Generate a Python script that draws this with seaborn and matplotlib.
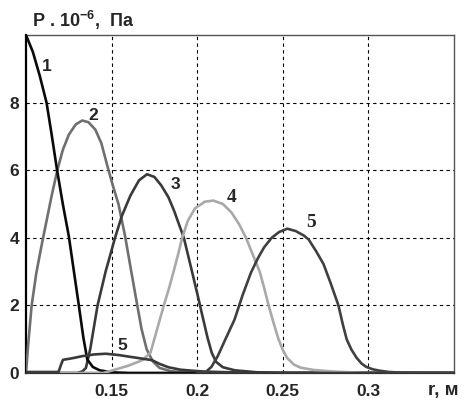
import matplotlib
matplotlib.use("Agg")
import matplotlib.pyplot as plt
import seaborn as sns

sns.set_style("white")
plt.rcParams['font.family'] = ['Liberation Sans', 'DejaVu Sans']
plt.rcParams['mathtext.fontset'] = 'custom'
plt.rcParams['mathtext.rm'] = 'Liberation Sans'
plt.rcParams['mathtext.bf'] = 'Liberation Sans:bold'

# ---- data (r in m, P*1e-6 in Pa) ----
x1 = [0.100, 0.104, 0.108, 0.112, 0.115, 0.118, 0.1215, 0.125, 0.128, 0.131,
      0.1335, 0.1358, 0.139, 0.143, 0.150, 0.160, 0.350]
y1 = [10.0, 9.5, 8.8, 8.0, 7.05, 6.05, 5.0, 4.05, 3.0, 1.95,
      1.05, 0.4, 0.18, 0.08, 0.02, 0.0, 0.0]

x2 = [0.100, 0.1012, 0.1033, 0.106, 0.109, 0.112, 0.115, 0.1183, 0.1215, 0.125,
      0.129, 0.1328, 0.1365, 0.1405, 0.144, 0.1482, 0.151, 0.154, 0.1578, 0.1615,
      0.165, 0.1675, 0.1705, 0.174, 0.178, 0.185, 0.200, 0.350]
y2 = [0.0, 0.8, 2.0, 2.95, 3.75, 4.5, 5.25, 6.0, 6.6, 7.05,
      7.35, 7.47, 7.42, 7.2, 6.8, 6.0, 5.5, 5.0, 4.07, 3.0,
      2.0, 1.3, 0.7, 0.35, 0.15, 0.05, 0.0, 0.0]

x3 = [0.100, 0.130, 0.133, 0.135, 0.1375, 0.1418, 0.1465, 0.152, 0.156, 0.161,
      0.166, 0.1707, 0.175, 0.179, 0.1832, 0.1865, 0.1922, 0.1965, 0.2005, 0.203,
      0.206, 0.2085, 0.211, 0.215, 0.222, 0.235, 0.250, 0.350]
y3 = [0.0, 0.0, 0.05, 0.15, 0.7, 2.0, 3.0, 4.0, 4.65, 5.25,
      5.7, 5.88, 5.8, 5.55, 5.2, 4.8, 4.0, 3.1, 2.25, 1.7,
      1.05, 0.6, 0.33, 0.17, 0.08, 0.02, 0.0, 0.0]

x4 = [0.120, 0.145, 0.150, 0.160, 0.168, 0.1727, 0.1755, 0.178, 0.1805, 0.1835,
      0.1862, 0.1888, 0.1912, 0.1945, 0.1987, 0.2045, 0.2095, 0.215, 0.220, 0.2245,
      0.2285, 0.2325, 0.2365, 0.2392, 0.2417, 0.2445, 0.2475, 0.250, 0.2526, 0.2565,
      0.2603, 0.268, 0.280, 0.300, 0.350]
y4 = [0.0, 0.0, 0.07, 0.22, 0.38, 0.6, 1.1, 1.55, 2.0, 2.5,
      3.0, 3.5, 4.0, 4.5, 4.87, 5.07, 5.1, 5.0, 4.75, 4.4,
      4.0, 3.5, 3.0, 2.5, 2.0, 1.5, 1.0, 0.68, 0.44, 0.25,
      0.16, 0.09, 0.04, 0.0, 0.0]

x5s = [0.100, 0.119, 0.1205, 0.1216, 0.1274, 0.133, 0.140, 0.1466, 0.1543, 0.162,
       0.1736, 0.178, 0.1832, 0.190, 0.1965, 0.205, 0.220, 0.240, 0.350]
y5s = [0.03, 0.03, 0.25, 0.39, 0.44, 0.5, 0.55, 0.57, 0.53, 0.47,
       0.38, 0.27, 0.17, 0.1, 0.07, 0.04, 0.02, 0.0, 0.0]

x5 = [0.200, 0.205, 0.2083, 0.212, 0.2165, 0.2218, 0.2265, 0.2314, 0.2355, 0.2391,
      0.2435, 0.2478, 0.2526, 0.2575, 0.2622, 0.2651, 0.2695, 0.2738, 0.278, 0.2825,
      0.285, 0.2873, 0.290, 0.2931, 0.296, 0.2988, 0.3025, 0.3064, 0.312, 0.320,
      0.350]
y5 = [0.0, 0.03, 0.18, 0.5, 1.0, 1.58, 2.3, 2.97, 3.4, 3.72,
      4.0, 4.17, 4.27, 4.2, 4.07, 3.95, 3.6, 3.22, 2.65, 2.0,
      1.45, 1.0, 0.7, 0.45, 0.28, 0.18, 0.11, 0.07, 0.03, 0.01,
      0.0]

xticks = [0.15, 0.2, 0.25, 0.3]
xtick_labels = ["0.15", "0.2", "0.25", "0.3"]
yticks = [0, 2, 4, 6, 8]
ytick_labels = ["0", "2", "4", "6", "8"]

labels = ["1", "2", "3", "4", "5", "5"]
label_x = [0.1095, 0.1365, 0.1845, 0.2175, 0.2635, 0.1535]
label_y = [8.85, 7.4, 5.35, 4.95, 4.2, 0.6]
label_serif = [False, False, False, True, True, False]

# ---- figure ----
fig = plt.figure(figsize=(4.65, 4.03), dpi=100)
ax = fig.add_axes([26/465, 30/403, 428/465, 338/403])

lw = 1.9
series = [
    (x2, y2, "#6f6f6f"),
    (x3, y3, "#3a3a3a"),
    (x1, y1, "#0a0a0a"),
    (x4, y4, "#a9a9a9"),
    (x5s, y5s, "#3a3a3a"),
    (x5, y5, "#404040"),
]
for xs, ys, c in series:
    sns.lineplot(x=xs, y=ys, ax=ax, color=c, linewidth=lw, sort=False,
                 estimator=None, zorder=3)

ax.set_xlim(0.1, 0.35)
ax.set_ylim(0, 10)
ax.set_xticks(xticks)
ax.set_xticklabels(xtick_labels)
ax.set_yticks(yticks)
ax.set_yticklabels(ytick_labels)
ax.tick_params(axis='both', length=0, labelsize=12.5)
ax.tick_params(axis='x', pad=8)
ax.tick_params(axis='y', pad=5)
for t in ax.get_xticklabels() + ax.get_yticklabels():
    t.set_fontweight('bold')

ax.grid(True, color='black', linestyle=(0, (3, 3)), linewidth=0.8, zorder=1)
ax.set_axisbelow(True)

for s in ['top', 'right']:
    ax.spines[s].set_color('#555555')
    ax.spines[s].set_linewidth(1.0)
ax.spines['left'].set_color('black')
ax.spines['left'].set_linewidth(1.6)
ax.spines['bottom'].set_color('#333333')
ax.spines['bottom'].set_linewidth(1.6)

for t, lx, ly, serif in zip(labels, label_x, label_y, label_serif):
    if serif:
        ax.text(lx, ly, t, fontsize=14, fontweight='bold',
                family=['Liberation Serif', 'DejaVu Serif'],
                ha='left', va='bottom', zorder=5)
    else:
        ax.text(lx, ly, t, fontsize=12.5, fontweight='bold',
                family=['Liberation Sans', 'DejaVu Sans'],
                ha='left', va='bottom', zorder=5)

fig.text(32/465, 1 - 27/403, r"P . 10$^{\mathbf{-6}}$,  Па", fontsize=13,
         fontweight='bold', ha='left', va='baseline')
fig.text(428/465, 1 - 395/403, "r, м", fontsize=13.5, fontweight='bold',
         ha='left', va='baseline')

ax.set_xlabel("")
ax.set_ylabel("")
fig.savefig("out.png", dpi=100)
